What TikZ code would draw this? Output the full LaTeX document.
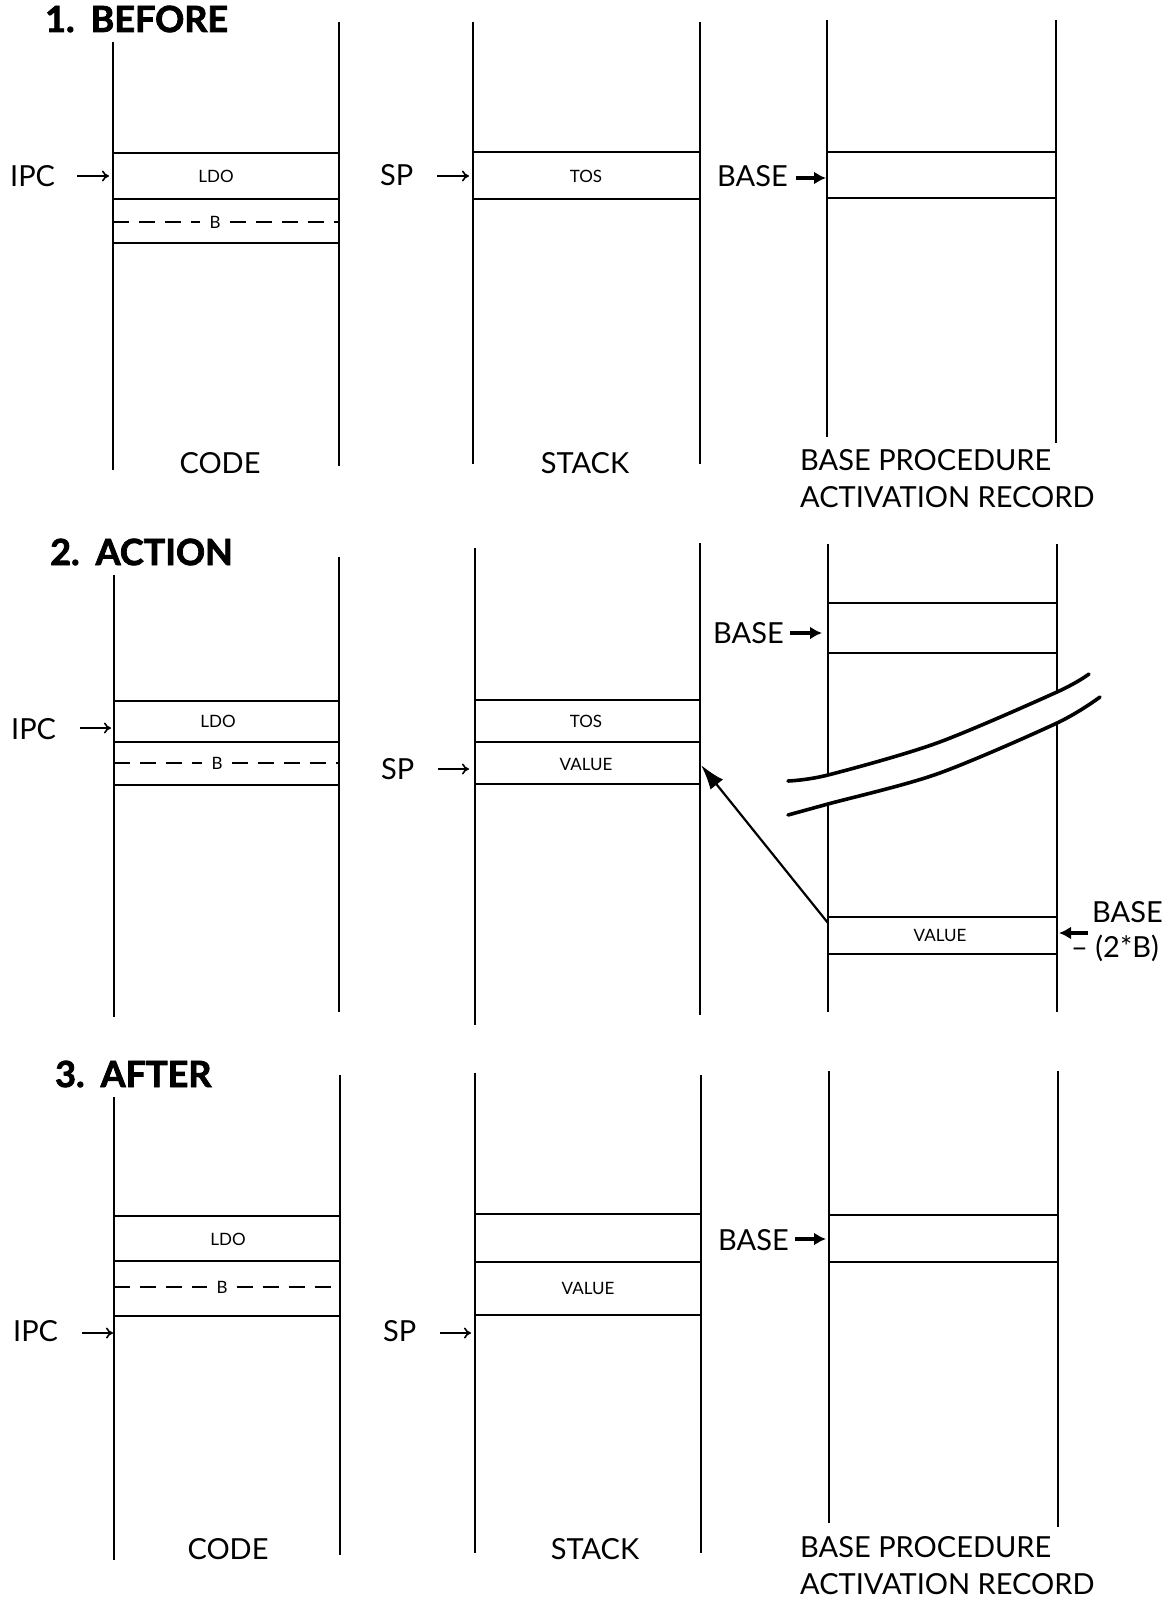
\documentclass[tikz,border=0pt]{standalone}
\usepackage{fontspec}
\setmainfont{Lato}
\newfontfamily\ttlfont{Lato}[BoldFeatures={FakeBold=2.2}]
\usetikzlibrary{arrows.meta}
\begin{document}
\begin{tikzpicture}[x=1pt,y=-1pt,
  col/.style={line width=1.4pt},
  hline/.style={line width=2.4pt},
  dline/.style={line width=2pt,dash pattern=on 16pt off 10pt},
  big/.style={font=\fontsize{29}{34}\selectfont, inner sep=0pt},
  bigb/.style={big, anchor=base},
  small/.style={font=\fontsize{17}{20}\selectfont, inner sep=0pt},
  bfill/.style={small, inner xsep=9pt, inner ysep=2pt},
  ttl/.style={font=\fontsize{36}{40}\selectfont\ttlfont\bfseries, inner sep=0pt, anchor=base west},
  ptr/.style={line width=1.6pt, -{To[length=7pt,width=11pt]}},
  bptr/.style={line width=3.2pt, -{Latex[length=12pt,width=13pt]}},
  brk/.style={line width=3.6pt, line cap=round},
  diag/.style={line width=2.2pt, -{Latex[length=25pt,width=16pt]}},
]
\useasboundingbox (0,0) rectangle (1169,1600);

% ================= PANEL 1 =================
\node[ttl] (t1) at (45,32) {1.\hspace{16pt}BEFORE};
% code
\draw[col] (113,42) -- (113,470);
\draw[col] (339,22) -- (339,466);
\draw[hline] (113,153) -- (339,153);
\draw[hline] (113,199) -- (339,199);
\node[bfill] (b1) at (215,222) {B};
\draw[dline] (113,222) -- (b1.west);
\draw[dline] (b1.east) -- (339,222);
\draw[hline] (113,243) -- (339,243);
\node[small] (ldo1) at (216,176) {LDO};
\node[big, anchor=base west] (ipc1) at (10,186) {IPC};
\coordinate (ipc1s) at (77,176);
\coordinate (ipc1e) at (109,176);
\draw[ptr] (ipc1s) -- (ipc1e);
% stack
\draw[col] (473,22) -- (473,464);
\draw[col] (700,22) -- (700,464);
\draw[hline] (473,152) -- (700,152);
\draw[hline] (473,199) -- (700,199);
\node[small] (tos1) at (586,176) {TOS};
\node[big, anchor=base west] (sp1) at (380,185) {SP};
\coordinate (sp1s) at (437,176);
\coordinate (sp1e) at (469,176);
\draw[ptr] (sp1s) -- (sp1e);
% base
\draw[col] (827,20) -- (827,437);
\draw[col] (1056,20) -- (1056,443);
\draw[hline] (827,152) -- (1056,152);
\draw[hline] (827,198) -- (1056,198);
\node[big, anchor=base east] (base1) at (788,186) {BASE};
\coordinate (base1s) at (796,178);
\coordinate (base1e) at (826,178);
\draw[bptr] (base1s) -- (base1e);
% labels
\node[bigb] (code1) at (220,473) {CODE};
\node[bigb] (stack1) at (585,473) {STACK};
\node[big, anchor=base west] (bp1) at (800,470) {BASE PROCEDURE};
\node[big, anchor=base west] (ar1) at (800,507) {ACTIVATION RECORD};

% ================= PANEL 2 =================
\node[ttl] (t2) at (50,565) {2.\hspace{16pt}ACTION};
% code
\draw[col] (114,575) -- (114,1017);
\draw[col] (339,557) -- (339,1012);
\draw[hline] (114,701) -- (339,701);
\draw[hline] (114,742) -- (339,742);
\node[bfill] (b2) at (217,763) {B};
\draw[dline] (114,763) -- (b2.west);
\draw[dline] (b2.east) -- (339,763);
\draw[hline] (114,785) -- (339,785);
\node[small] (ldo2) at (218,721) {LDO};
\node[big, anchor=base west] (ipc2) at (11,739) {IPC};
\coordinate (ipc2s) at (80,728);
\coordinate (ipc2e) at (111,728);
\draw[ptr] (ipc2s) -- (ipc2e);
% stack
\draw[col] (475,548) -- (475,1025);
\draw[col] (700,543) -- (700,1015);
\draw[hline] (475,700) -- (700,700);
\draw[hline] (475,742) -- (700,742);
\draw[hline] (475,784) -- (700,784);
\node[small] (tos2) at (586,721) {TOS};
\node[small] (val2) at (586,764) {VALUE};
\node[big, anchor=base west] (sp2) at (381,779) {SP};
\coordinate (sp2s) at (438,769);
\coordinate (sp2e) at (469,769);
\draw[ptr] (sp2s) -- (sp2e);
% base (broken)
\draw[col] (828,544) -- (828,775);
\draw[col] (828,804) -- (828,1012);
\draw[col] (1057,544) -- (1057,692);
\draw[col] (1057,723) -- (1057,1012);
\draw[hline] (828,603) -- (1057,603);
\draw[hline] (828,653) -- (1057,653);
\node[big, anchor=base east] (base2) at (784,643) {BASE};
\coordinate (base2s) at (790,633);
\coordinate (base2e) at (822,633);
\draw[bptr] (base2s) -- (base2e);
\draw[brk] plot[smooth] coordinates {(788,781) (828,775) (937,743) (1057,692) (1089,674)};
\draw[brk] plot[smooth] coordinates {(788,815) (828,804) (937,774) (1057,723) (1100,697)};
\draw[hline] (828,917) -- (1057,917);
\draw[hline] (828,954) -- (1057,954);
\node[small] (val2b) at (940,935) {VALUE};
\node[big, anchor=base west] (bb2) at (1092,922) {BASE};
\node[big, anchor=base west] (bb2b) at (1071,957) {– (2*B)};
\coordinate (bb2s) at (1088,933);
\coordinate (bb2e) at (1059,933);
\draw[bptr] (bb2s) -- (bb2e);
% diagonal move arrow
\coordinate (vsrc) at (828,923);
\coordinate (vdst) at (701,765);
\draw[diag] (vsrc) -- (vdst);

% ================= PANEL 3 =================
\node[ttl] (t3) at (55,1087) {3.\hspace{16pt}AFTER};
% code
\draw[col] (114,1097) -- (114,1560);
\draw[col] (340,1075) -- (340,1555);
\draw[hline] (114,1216) -- (340,1216);
\draw[hline] (114,1261) -- (340,1261);
\node[bfill] (b3) at (222,1287) {B};
\draw[dline] (114,1287) -- (b3.west);
\draw[dline] (b3.east) -- (340,1287);
\draw[hline] (114,1316) -- (340,1316);
\node[small] (ldo3) at (228,1239) {LDO};
\node[big, anchor=base west] (ipc3) at (13,1341) {IPC};
\coordinate (ipc3s) at (82,1333);
\coordinate (ipc3e) at (113,1333);
\draw[ptr] (ipc3s) -- (ipc3e);
% stack
\draw[col] (475,1073) -- (475,1553);
\draw[col] (701,1075) -- (701,1553);
\draw[hline] (475,1214) -- (701,1214);
\draw[hline] (475,1262) -- (701,1262);
\draw[hline] (475,1315) -- (701,1315);
\node[small] (val3) at (588,1288) {VALUE};
\node[big, anchor=base west] (sp3) at (383,1341) {SP};
\coordinate (sp3s) at (440,1333);
\coordinate (sp3e) at (471,1333);
\draw[ptr] (sp3s) -- (sp3e);
% base
\draw[col] (829,1071) -- (829,1523);
\draw[col] (1058,1071) -- (1058,1527);
\draw[hline] (829,1215) -- (1058,1215);
\draw[hline] (829,1262) -- (1058,1262);
\node[big, anchor=base east] (base3) at (789,1250) {BASE};
\coordinate (base3s) at (795,1239);
\coordinate (base3e) at (826,1239);
\draw[bptr] (base3s) -- (base3e);
% labels
\node[bigb] (code3) at (228,1559) {CODE};
\node[bigb] (stack3) at (595,1559) {STACK};
\node[big, anchor=base west] (bp3) at (800,1557) {BASE PROCEDURE};
\node[big, anchor=base west] (ar3) at (800,1594) {ACTIVATION RECORD};
\end{tikzpicture}
\end{document}
